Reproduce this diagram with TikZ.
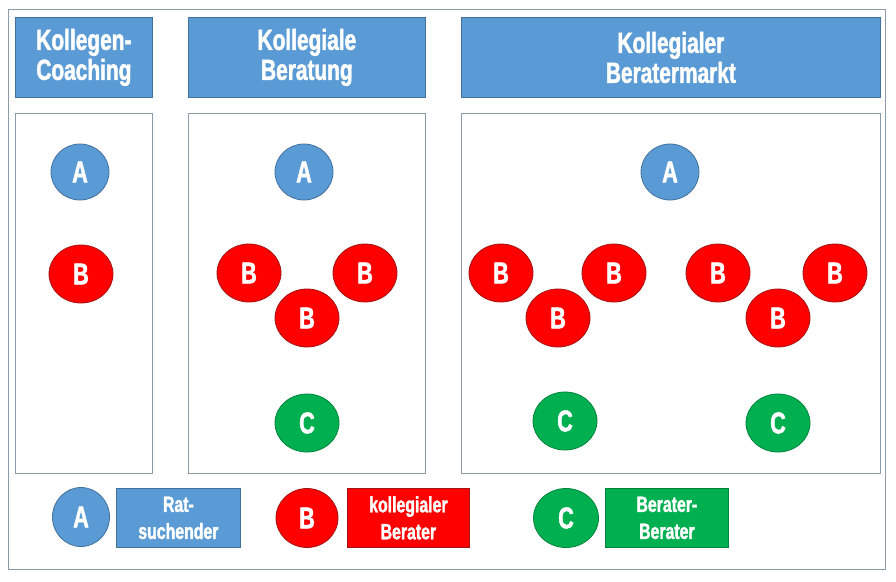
\documentclass[tikz,border=0pt]{standalone}
\usepackage{fontspec}
\usetikzlibrary{shapes.geometric}
\newfontfamily\impactfont{Liberation Sans Bold}[FakeStretch=0.72, FakeBold=1.6]
\definecolor{oblue}{HTML}{5B9BD5}
\definecolor{oblueb}{HTML}{41719C}
\definecolor{ored}{HTML}{FF0000}
\definecolor{oredb}{HTML}{A31515}
\definecolor{ogreen}{HTML}{00B050}
\definecolor{ogreenb}{HTML}{00843C}
\definecolor{frame}{HTML}{8C9BA8}
\tikzset{
  hdr/.style={draw=oblueb, line width=0.8pt, fill=oblue, text=white, anchor=north west, inner sep=0pt,
    align=center, font=\impactfont\fontsize{29}{30}\selectfont},
  panel/.style={draw=frame, line width=0.8pt, fill=white, anchor=north west, inner sep=0pt},
  bub/.style={ellipse, inner sep=0pt, text=white, line width=0.8pt,
    font=\impactfont\fontsize{30}{30}\selectfont},
  bubA/.style={bub, draw=oblueb, fill=oblue, minimum width=58pt, minimum height=56pt},
  bubB/.style={bub, draw=oredb, fill=ored, minimum width=64pt, minimum height=58pt},
  bubC/.style={bub, draw=ogreenb, fill=ogreen, minimum width=64pt, minimum height=58pt},
  legbox/.style={anchor=north west, inner sep=0pt, text=white, align=center, line width=0.8pt,
    minimum width=123pt, minimum height=59pt, font=\impactfont\fontsize{22}{27}\selectfont}
}
\begin{document}
\begin{tikzpicture}[x=1pt,y=1pt]
\useasboundingbox (0,0) rectangle (896,-581);
\draw[frame, line width=1pt, fill=white] (8,-9) rectangle (885,-569);
% headers
\node[hdr, minimum width=137pt, minimum height=80pt] (h1) at (15,-17) {Kollegen-\\Coaching};
\node[hdr, minimum width=237pt, minimum height=80pt] (h2) at (188,-17) {Kollegiale\\Beratung};
\node[hdr, minimum width=419pt, minimum height=80pt] (h3) at (461,-17) {Kollegialer\\Beratermarkt};
% panels
\node[panel, minimum width=137pt, minimum height=360pt] (p1) at (15,-113) {};
\node[panel, minimum width=237pt, minimum height=360pt] (p2) at (188,-113) {};
\node[panel, minimum width=419pt, minimum height=360pt] (p3) at (461,-113) {};
% panel 1
\node[bubA] (a1) at (80,-172) {A};
\node[bubB] (b1) at (81,-274) {B};
% panel 2
\node[bubA] (a2) at (304,-172) {A};
\node[bubB] (b21) at (249,-273) {B};
\node[bubB] (b22) at (365,-273) {B};
\node[bubB] (b23) at (307,-318) {B};
\node[bubC] (c2) at (307,-423) {C};
% panel 3
\node[bubA] (a3) at (670,-172) {A};
\node[bubB] (b31) at (501,-273) {B};
\node[bubB] (b32) at (614,-273) {B};
\node[bubB] (b33) at (558,-318) {B};
\node[bubB] (b34) at (718,-273) {B};
\node[bubB] (b35) at (835,-273) {B};
\node[bubB] (b36) at (778,-318) {B};
\node[bubC] (c31) at (565,-421) {C};
\node[bubC] (c32) at (778,-423) {C};
% legend
\node[bubA, minimum width=57pt, minimum height=59pt] (la) at (81,-517) {A};
\node[legbox, draw=oblueb, fill=oblue, minimum width=124pt] (lta) at (116,-488) {Rat-\\suchender};
\node[bubB, minimum width=62pt, minimum height=59pt] (lb) at (307,-518) {B};
\node[legbox, draw=oredb, fill=ored, minimum width=122pt] (ltb) at (347,-488) {kollegialer\\Berater};
\node[bubC, minimum width=65pt, minimum height=59pt] (lc) at (566,-518) {C};
\node[legbox, draw=ogreenb, fill=ogreen, minimum width=123pt] (ltc) at (605,-488) {Berater-\\Berater};
\end{tikzpicture}
\end{document}
